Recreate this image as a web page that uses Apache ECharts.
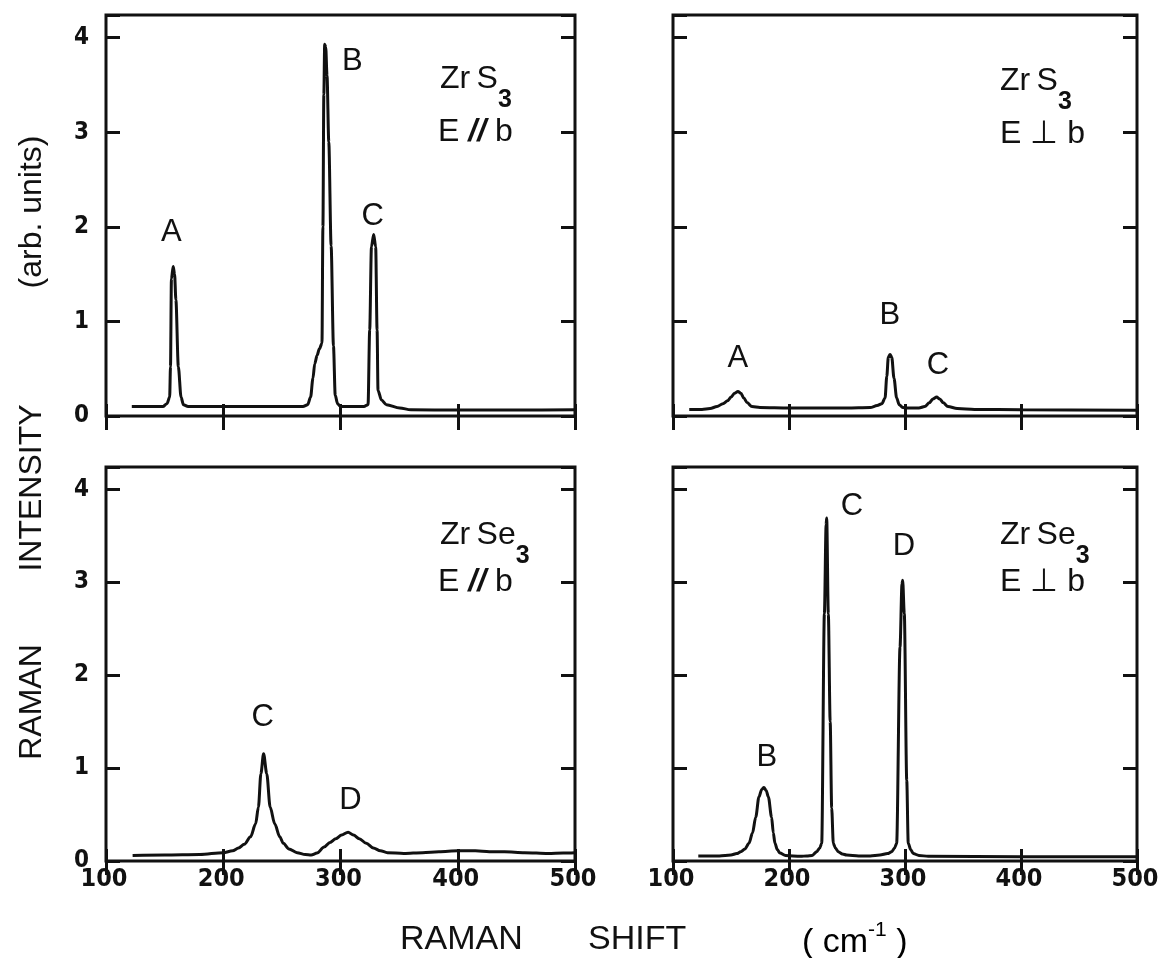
<!DOCTYPE html>
<html><head><meta charset="utf-8">
<script src="https://cdn.jsdelivr.net/npm/echarts@6/dist/echarts.min.js"></script>
<style>html,body{margin:0;padding:0;background:#fff}#c{width:1159px;height:958px}</style>
</head><body><div id="c"></div>
<script>
// ---------- data ----------
const xTickLabels = [100, 200, 300, 400, 500];
const yTickLabels = [0, 1, 2, 3, 4];

// ZrS3, E // b
const zrs3ParX = [122, 140, 148.5, 152, 154.3, 155, 155.8, 157.3, 158.5, 159.6, 161.7, 164, 166, 170, 200, 250, 268, 272, 274.5, 276.5, 278, 280, 282, 284.2, 285, 285.8, 286.5, 287.4, 288.5, 290, 292, 294, 295.5, 297.5, 300, 310, 320, 323.5, 324.9, 326.4, 328.3, 330, 331.2, 332, 334.9, 339.2, 350.5, 360, 400, 450, 500];
const zrs3ParY = [0.1, 0.1, 0.1, 0.13, 0.2, 0.52, 1.45, 1.58, 1.5, 1.23, 0.52, 0.2, 0.12, 0.1, 0.1, 0.1, 0.1, 0.12, 0.2, 0.4, 0.55, 0.64, 0.71, 0.77, 2.0, 3.4, 3.93, 3.9, 3.6, 2.9, 1.8, 0.74, 0.22, 0.13, 0.1, 0.1, 0.1, 0.12, 0.91, 1.79, 1.92, 1.79, 0.91, 0.27, 0.17, 0.12, 0.085, 0.065, 0.063, 0.063, 0.065];
const zrs3ParPeaks = [['A', 155.8, 1.94], ['B', 310, 3.75], ['C', 327.5, 2.11]];

// ZrS3, E ⊥ b
const zrs3PerpX = [114, 125, 132, 138, 143, 147, 150, 153, 156, 158.5, 161, 164, 168, 175, 200, 250, 270, 276, 280, 282.8, 284.3, 285.6, 287.1, 288.6, 290.5, 292.8, 295, 298, 302, 312, 317, 321, 324, 327.3, 330, 333, 337, 345, 360, 400, 500];
const zrs3PerpY = [0.07, 0.07, 0.08, 0.1, 0.13, 0.16, 0.2, 0.24, 0.26, 0.24, 0.19, 0.14, 0.1, 0.09, 0.085, 0.085, 0.09, 0.11, 0.13, 0.19, 0.42, 0.62, 0.65, 0.62, 0.4, 0.19, 0.12, 0.09, 0.085, 0.085, 0.1, 0.14, 0.18, 0.2, 0.18, 0.14, 0.1, 0.08, 0.07, 0.065, 0.06];
const zrs3PerpPeaks = [['A', 156, 0.61], ['B', 287, 1.06], ['C', 328.4, 0.53]];

// ZrSe3, E // b
const zrse3ParX = [122.7, 150, 180, 200, 208, 213, 218, 223.3, 227.6, 230, 232.1, 234.4, 237.1, 240, 243.9, 248.2, 251.2, 256, 263, 270, 275, 280, 286, 291, 296, 301, 306.5, 311, 316, 322, 328, 334, 340, 354, 370, 384, 400, 415, 427, 440, 457, 477, 490, 500];
const zrse3ParY = [0.06, 0.065, 0.07, 0.09, 0.11, 0.14, 0.18, 0.26, 0.40, 0.58, 0.94, 1.155, 0.94, 0.58, 0.40, 0.26, 0.19, 0.13, 0.09, 0.07, 0.065, 0.085, 0.15, 0.2, 0.24, 0.28, 0.31, 0.28, 0.24, 0.19, 0.14, 0.11, 0.09, 0.08, 0.09, 0.1, 0.11, 0.11, 0.1, 0.1, 0.09, 0.08, 0.085, 0.09];
const zrse3ParPeaks = [['C', 233.6, 1.54], ['D', 308.5, 0.65]];

// ZrSe3, E ⊥ b
const zrse3PerpX = [121.8, 140, 150, 155, 158.4, 162, 165.5, 168.5, 171.3, 174.1, 176.5, 178.4, 180.3, 182.2, 185, 186.5, 187.9, 190, 192.2, 197, 210, 215.3, 220, 223.9, 226.5, 228.2, 230.5, 232, 232.5, 233.9, 235.5, 236.8, 238.2, 240, 242.5, 246, 249.7, 260, 270, 278.4, 285, 288.5, 291, 292.8, 295.7, 297.4, 298, 299.4, 301.5, 302.8, 305, 307.1, 312, 320, 400, 500];
const zrse3PerpY = [0.054, 0.055, 0.065, 0.08, 0.1, 0.13, 0.19, 0.3, 0.47, 0.69, 0.77, 0.79, 0.76, 0.69, 0.47, 0.3, 0.19, 0.12, 0.085, 0.06, 0.05, 0.055, 0.06, 0.1, 0.14, 0.19, 2.66, 3.62, 3.69, 2.66, 1.5, 0.57, 0.19, 0.14, 0.1, 0.075, 0.064, 0.055, 0.055, 0.064, 0.08, 0.1, 0.14, 0.19, 2.3, 2.98, 3.02, 2.66, 0.87, 0.19, 0.12, 0.08, 0.06, 0.05, 0.045, 0.045];
const zrse3PerpPeaks = [['B', 181, 1.11], ['C', 254.3, 3.82], ['D', 299, 3.39]];

// ---------- layout ----------
const INK = '#111';
const NUM_FONT = "'Liberation Sans Narrow','DejaVu Sans Condensed',sans-serif";
const TXT_FONT = "'Liberation Sans',Arial,sans-serif";
const grids = [
  { left: 106, top: 15, width: 469, height: 401 },
  { left: 673, top: 15, width: 464, height: 401 },
  { left: 106, top: 467, width: 469, height: 394 },
  { left: 673, top: 467, width: 464, height: 394 }
];
const panels = [
  { x: zrs3ParX, y: zrs3ParY, peaks: zrs3ParPeaks, xLabels: false, yLabels: true },
  { x: zrs3PerpX, y: zrs3PerpY, peaks: zrs3PerpPeaks, xLabels: false, yLabels: false },
  { x: zrse3ParX, y: zrse3ParY, peaks: zrse3ParPeaks, xLabels: true, yLabels: true },
  { x: zrse3PerpX, y: zrse3PerpY, peaks: zrse3PerpPeaks, xLabels: true, yLabels: false }
];

const tick = { show: true, inside: true, length: 14, lineStyle: { color: INK, width: 3 } };
const xAxes = [], yAxes = [], series = [];
panels.forEach((p, i) => {
  const xBase = {
    gridIndex: i, type: 'value', min: 100, max: 500, interval: 100,
    axisLine: { show: false }, splitLine: { show: false }, axisTick: tick
  };
  xAxes.push(Object.assign({}, xBase, {
    position: 'bottom',
    axisTick: Object.assign({}, tick, { length: 12 }),
    axisLabel: {
      show: p.xLabels, margin: 6, color: INK, fontFamily: NUM_FONT, fontWeight: 'bold', fontSize: 25,
      padding: [0, 4, 0, 0],
      formatter: v => xTickLabels.includes(v) ? String(v) : ''
    }
  }));
  xAxes.push(Object.assign({}, xBase, { position: 'top', axisLabel: { show: false } }));
  const yBase = {
    gridIndex: i, type: 'value', min: 0, max: 4.24, interval: 1,
    axisLine: { show: false }, splitLine: { show: false }, axisTick: tick
  };
  yAxes.push(Object.assign({}, yBase, {
    position: 'left',
    axisLabel: {
      show: p.yLabels, margin: 17, color: INK, fontFamily: NUM_FONT, fontWeight: 'bold', fontSize: 24,
      formatter: v => yTickLabels.includes(v) ? String(v) : ''
    }
  }));
  yAxes.push(Object.assign({}, yBase, { position: 'right', axisLabel: { show: false } }));
  series.push({
    type: 'line', xAxisIndex: 2 * i, yAxisIndex: 2 * i,
    data: p.x.map((xv, k) => [xv, p.y[k]]),
    showSymbol: false, smooth: 0.3, smoothMonotone: 'x',
    lineStyle: { color: INK, width: 3 }, silent: true,
    markPoint: {
      symbol: 'circle', symbolSize: 2, itemStyle: { color: 'rgba(0,0,0,0)' },
      label: { show: true, position: 'inside', color: INK, fontFamily: TXT_FONT, fontSize: 31, formatter: '{b}' },
      data: p.peaks.map(pk => ({ name: pk[0], coord: [pk[1], pk[2]] }))
    }
  });
});

const formulaRich = {
  m: { fontFamily: TXT_FONT, fontSize: 32, lineHeight: 34, verticalAlign: 'top', color: INK },
  s: { fontFamily: TXT_FONT, fontSize: 25, fontWeight: 'bold', lineHeight: 50, verticalAlign: 'bottom', color: INK },
  p: { fontFamily: TXT_FONT, fontSize: 32, fontWeight: 'bold', fontStyle: 'italic', lineHeight: 34, verticalAlign: 'top', color: INK }
};
function label(x, y, text) {
  return { type: 'text', x: x, y: y, style: { text: text, rich: formulaRich, fill: INK } };
}
const graphics = [
  label(440, 63, '{m|Zr\u2009S}{s|3}'), label(438, 116, '{m|E }{p|//}{m| b}'),
  label(1000, 65, '{m|Zr\u2009S}{s|3}'), label(1000, 118, '{m|E \u22A5 b}'),
  label(440, 519, '{m|Zr\u2009Se}{s|3}'), label(438, 566, '{m|E }{p|//}{m| b}'),
  label(1000, 519, '{m|Zr\u2009Se}{s|3}'), label(1000, 566, '{m|E \u22A5 b}'),
  { type: 'text', x: 400, y: 940, style: { text: 'RAMAN', fontFamily: TXT_FONT, fontSize: 34, fill: INK, textVerticalAlign: 'middle' } },
  { type: 'text', x: 588, y: 940, style: { text: 'SHIFT', fontFamily: TXT_FONT, fontSize: 34, fill: INK, textVerticalAlign: 'middle' } },
  { type: 'text', x: 802, y: 940, style: {
      text: '{a|( cm}{b|-1}{a| )}', textVerticalAlign: 'middle',
      rich: {
        a: { fontFamily: TXT_FONT, fontSize: 34, lineHeight: 40, verticalAlign: 'bottom', color: INK },
        b: { fontFamily: TXT_FONT, fontSize: 21, lineHeight: 24, verticalAlign: 'top', color: INK }
      } } },
  { type: 'text', x: 32, y: 702, rotation: Math.PI / 2, style: { text: 'RAMAN', fontFamily: TXT_FONT, fontSize: 32, fill: INK, textAlign: 'center', textVerticalAlign: 'middle' } },
  { type: 'text', x: 32, y: 488, rotation: Math.PI / 2, style: { text: 'INTENSITY', fontFamily: TXT_FONT, fontSize: 32, fill: INK, textAlign: 'center', textVerticalAlign: 'middle' } },
  { type: 'text', x: 32, y: 212, rotation: Math.PI / 2, style: { text: '(arb. units)', fontFamily: TXT_FONT, fontSize: 32, fill: INK, textAlign: 'center', textVerticalAlign: 'middle' } }
];

const chart = echarts.init(document.getElementById('c'), null, { renderer: 'canvas' });
chart.setOption({
  animation: false,
  backgroundColor: '#fff',
  grid: grids.map(g => Object.assign({ show: true, borderColor: INK, borderWidth: 3, backgroundColor: 'transparent', containLabel: false, outerBoundsMode: 'none' }, g)),
  xAxis: xAxes,
  yAxis: yAxes,
  series: series,
  graphic: graphics
});
</script>
</body></html>
